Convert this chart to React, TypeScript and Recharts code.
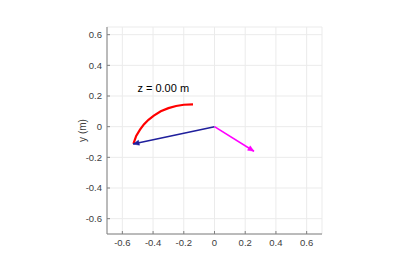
import React from 'react';
import { ComposedChart, Scatter, XAxis, YAxis, CartesianGrid, ReferenceDot } from 'recharts';

// end-effector trace (red), link (blue), force vector (magenta)
const traceX = [-0.528, -0.51, -0.485, -0.46, -0.43, -0.395, -0.35, -0.3, -0.25, -0.2, -0.14];
const traceY = [-0.112, -0.06, -0.02, 0.015, 0.045, 0.072, 0.1, 0.121, 0.135, 0.143, 0.145];
const linkX = [0, -0.53];
const linkY = [0, -0.113];
const forceX = [0, 0.257];
const forceY = [0, -0.16];
const axisTicks = [-0.6, -0.4, -0.2, 0, 0.2, 0.4, 0.6];
const annotation = 'z = 0.00 m';
const annotationAt = [-0.502, 0.254];

const toPoints = (xs: number[], ys: number[]) => xs.map((x, i) => ({ x, y: ys[i] }));

const trace = toPoints(traceX, traceY);
const link = toPoints(linkX, linkY);
const force = toPoints(forceX, forceY);

const fmt = (v: number) => (v === 0 ? '0' : v.toFixed(1));

// arrowhead drawn at the last point of a segment, pointing along it
function arrowShape(pts: { x: number; y: number }[], color: string, len: number, half: number) {
  const last = pts[pts.length - 1];
  const prev = pts[pts.length - 2];
  const ang = Math.atan2(-(last.y - prev.y), last.x - prev.x);
  return (props: any) => {
    const p = props.payload;
    if (!p || p.x !== last.x || p.y !== last.y) return <g />;
    const { cx, cy } = props;
    const c = Math.cos(ang);
    const s = Math.sin(ang);
    const bx = cx - len * c;
    const by = cy - len * s;
    const d = `M${cx},${cy} L${bx - half * s},${by + half * c} L${bx + half * s},${by - half * c} Z`;
    return <path d={d} fill={color} stroke={color} strokeWidth={0.5} />;
  };
}

const axisColor = '#808080';
const font = 'Liberation Sans, Arial, sans-serif';
const GAP = 5;
const TICK = 3;

// MATLAB-style ticks point into the plot
const XTick = (props: any) => {
  const { x, y, payload } = props;
  const ay = y - GAP;
  return (
    <g>
      <line x1={x} x2={x} y1={ay} y2={ay - TICK} stroke={axisColor} />
      <text x={x} y={y} dy="0.71em" textAnchor="middle" fill="#404040" fontSize={9.5} fontFamily={font}>
        {fmt(payload.value)}
      </text>
    </g>
  );
};

const YTick = (props: any) => {
  const { x, y, payload } = props;
  const ax = x + GAP;
  return (
    <g>
      <line x1={ax} x2={ax + TICK} y1={y} y2={y} stroke={axisColor} />
      <text x={x} y={y} dy="0.355em" textAnchor="end" fill="#404040" fontSize={9.5} fontFamily={font}>
        {fmt(payload.value)}
      </text>
    </g>
  );
};

const RTick = (props: any) => {
  const { x, y } = props;
  return <line x1={x} x2={x - TICK} y1={y} y2={y} stroke={axisColor} />;
};

export default function App() {
  return (
    <div style={{ position: 'fixed', left: 0, top: 0, width: 400, height: 267, background: '#fff' }}>
      <ComposedChart width={400} height={267} margin={{ top: 27, right: 78, bottom: 8, left: 57 }}>
        <CartesianGrid stroke="#ebebeb" />
        <XAxis
          type="number"
          dataKey="x"
          domain={[-0.7, 0.7]}
          ticks={axisTicks}
          allowDataOverflow
          height={25}
          tickLine={false}
          tickSize={GAP}
          tickMargin={0}
          stroke={axisColor}
          tick={<XTick />}
        />
        <YAxis
          type="number"
          dataKey="y"
          domain={[-0.7, 0.65]}
          ticks={axisTicks}
          allowDataOverflow
          width={50}
          tickLine={false}
          tickSize={GAP}
          tickMargin={0}
          stroke={axisColor}
          tick={<YTick />}
          label={{ value: 'y (m)', angle: -90, position: 'center', fill: '#404040', fontSize: 10, fontFamily: font }}
        />
        <YAxis
          yAxisId="right"
          orientation="right"
          type="number"
          domain={[-0.7, 0.65]}
          ticks={axisTicks}
          allowDataOverflow
          width={0}
          tickLine={false}
          tickSize={0}
          tickMargin={0}
          stroke={axisColor}
          tick={<RTick />}
        />
        <Scatter
          data={trace}
          line={{ stroke: '#ff0000', strokeWidth: 2.2 }}
          lineType="joint"
          shape={() => <g />}
          isAnimationActive={false}
        />
        <Scatter
          data={link}
          line={{ stroke: '#1f1f9c', strokeWidth: 1.6 }}
          lineType="joint"
          shape={arrowShape(link, '#1f1f9c', 6, 2.5)}
          isAnimationActive={false}
        />
        <Scatter
          data={force}
          line={{ stroke: '#ff00ff', strokeWidth: 1.6 }}
          lineType="joint"
          shape={arrowShape(force, '#ff00ff', 6, 2.6)}
          isAnimationActive={false}
        />
        <ReferenceDot
          x={annotationAt[0]}
          y={annotationAt[1]}
          r={0}
          fill="none"
          stroke="none"
          label={{ value: annotation, position: 'right', offset: 0, fill: '#000', fontSize: 11, fontFamily: font }}
        />
      </ComposedChart>
    </div>
  );
}
